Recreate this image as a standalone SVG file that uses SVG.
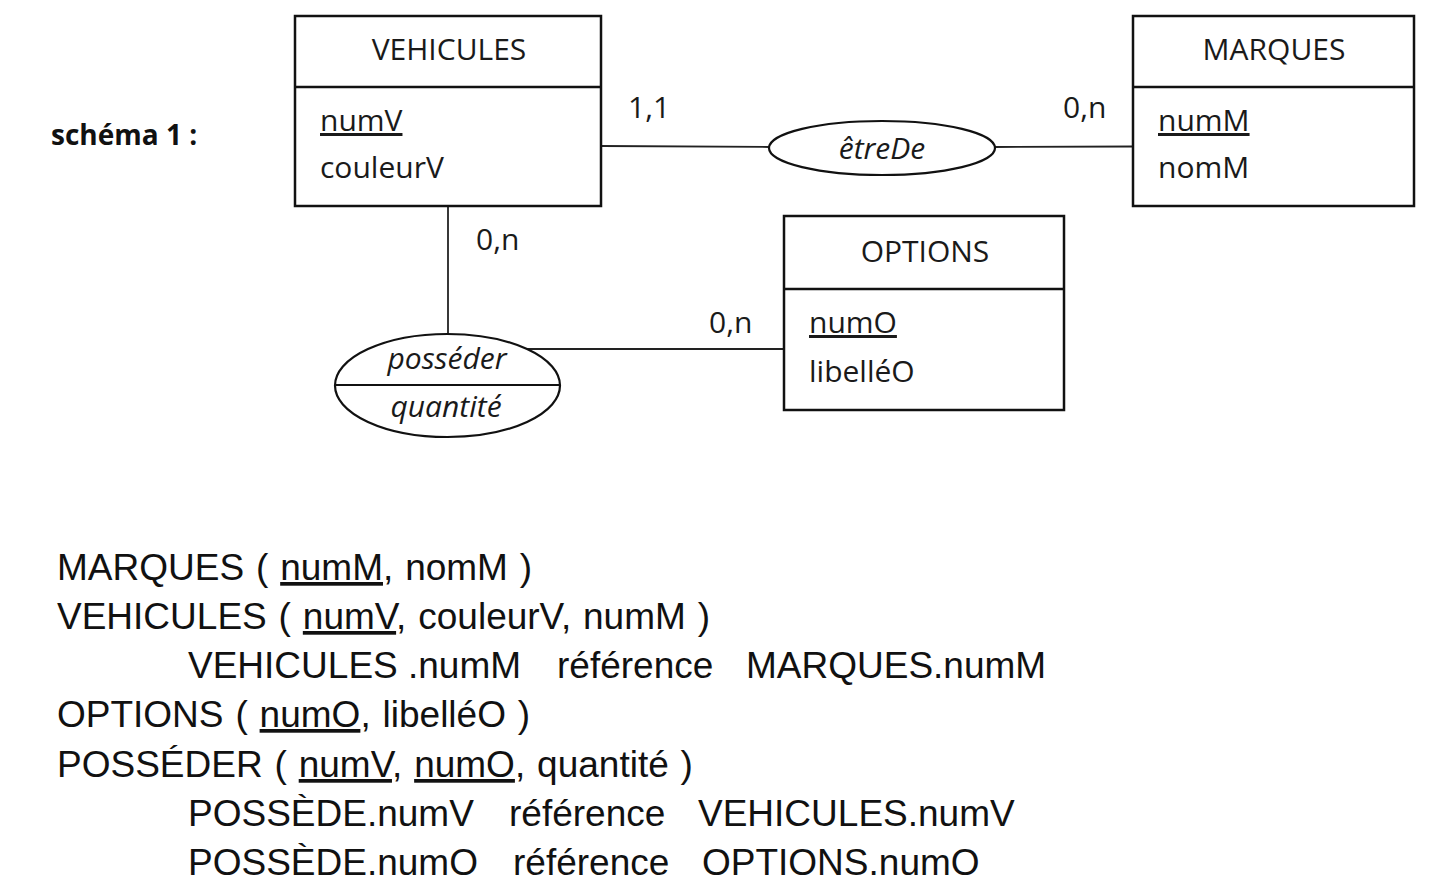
<svg xmlns="http://www.w3.org/2000/svg" width="1432" height="887" viewBox="0 0 1432 887">
<style>
.box{fill:#fff;stroke:#111;stroke-width:2.5}
.div{stroke:#111;stroke-width:2.5}
.ell{fill:#fff;stroke:#111;stroke-width:2.2}
.con{stroke:#222;stroke-width:1.8;fill:none}
.t{font-family:"Open Sans","Liberation Sans",sans-serif;font-size:30px;fill:#1a1a1a}
.mid{text-anchor:middle}
.it{font-style:italic}
.u{text-decoration:underline}
.b{font-family:"Liberation Sans",Arial,sans-serif;font-size:37px;fill:#111}
.ws{word-spacing:1.6px}
.h{font-family:"Open Sans","Liberation Sans",sans-serif;font-size:28px;font-weight:bold;fill:#111}
</style>
<rect width="1432" height="887" fill="#fff"/>
<text class="h" x="51" y="145">schéma 1 :</text>
<g id="connectors">
<line class="con" x1="601" y1="146" x2="769" y2="147"/>
<line class="con" x1="995" y1="147" x2="1133" y2="146.5"/>
<line class="con" x1="448" y1="206" x2="448" y2="334"/>
<line class="con" x1="527" y1="349" x2="784" y2="349"/>
<text class="t" x="628" y="118">1,1</text>
<text class="t" x="1063" y="118">0,n</text>
<text class="t" x="476" y="250">0,n</text>
<text class="t" x="709" y="333">0,n</text>
</g>
<g id="vehicules">
<rect class="box" x="295" y="16" width="306" height="190"/>
<line class="div" x1="295" y1="87" x2="601" y2="87"/>
<text class="t mid" x="449" y="60">VEHICULES</text>
<text class="t u" x="320" y="131">numV</text>
<text class="t" x="320" y="178">couleurV</text>
</g>
<g id="marques">
<rect class="box" x="1133" y="16" width="281" height="190"/>
<line class="div" x1="1133" y1="87" x2="1414" y2="87"/>
<text class="t mid" x="1274" y="60">MARQUES</text>
<text class="t u" x="1158" y="131">numM</text>
<text class="t" x="1158" y="178">nomM</text>
</g>
<g id="options">
<rect class="box" x="784" y="216" width="280" height="194"/>
<line class="div" x1="784" y1="289" x2="1064" y2="289"/>
<text class="t mid" x="925" y="262">OPTIONS</text>
<text class="t u" x="809" y="333">numO</text>
<text class="t" x="809" y="382">libelléO</text>
</g>
<g id="etreDe">
<ellipse class="ell" cx="882" cy="148" rx="113" ry="27"/>
<text class="t mid it" x="882" y="159">êtreDe</text>
</g>
<g id="posseder">
<ellipse class="ell" cx="447.5" cy="385.5" rx="112.5" ry="51.5"/>
<line class="div" x1="335" y1="385" x2="560" y2="385" style="stroke-width:2"/>
<text class="t mid it" x="447" y="369">posséder</text>
<text class="t mid it" x="446" y="417">quantité</text>
</g>
<g id="relational">
<text class="b ws" x="57" y="580">MARQUES ( <tspan class="u">numM</tspan>, nomM )</text>
<text class="b ws" x="57" y="629">VEHICULES ( <tspan class="u">numV</tspan>, couleurV, numM )</text>
<text class="b" x="188" y="678">VEHICULES .numM</text>
<text class="b" x="557" y="678">référence</text>
<text class="b" x="746" y="678">MARQUES.numM</text>
<text class="b ws" x="57" y="727">OPTIONS ( <tspan class="u">numO</tspan>, libelléO )</text>
<text class="b ws" x="57" y="777">POSSÉDER ( <tspan class="u">numV</tspan>, <tspan class="u">numO</tspan>, quantité )</text>
<text class="b" x="188" y="826">POSSÈDE.numV</text>
<text class="b" x="509" y="826">référence</text>
<text class="b" x="698" y="826">VEHICULES.numV</text>
<text class="b" x="188" y="875">POSSÈDE.numO</text>
<text class="b" x="513" y="875">référence</text>
<text class="b" x="702" y="875">OPTIONS.numO</text>
</g>
</svg>
